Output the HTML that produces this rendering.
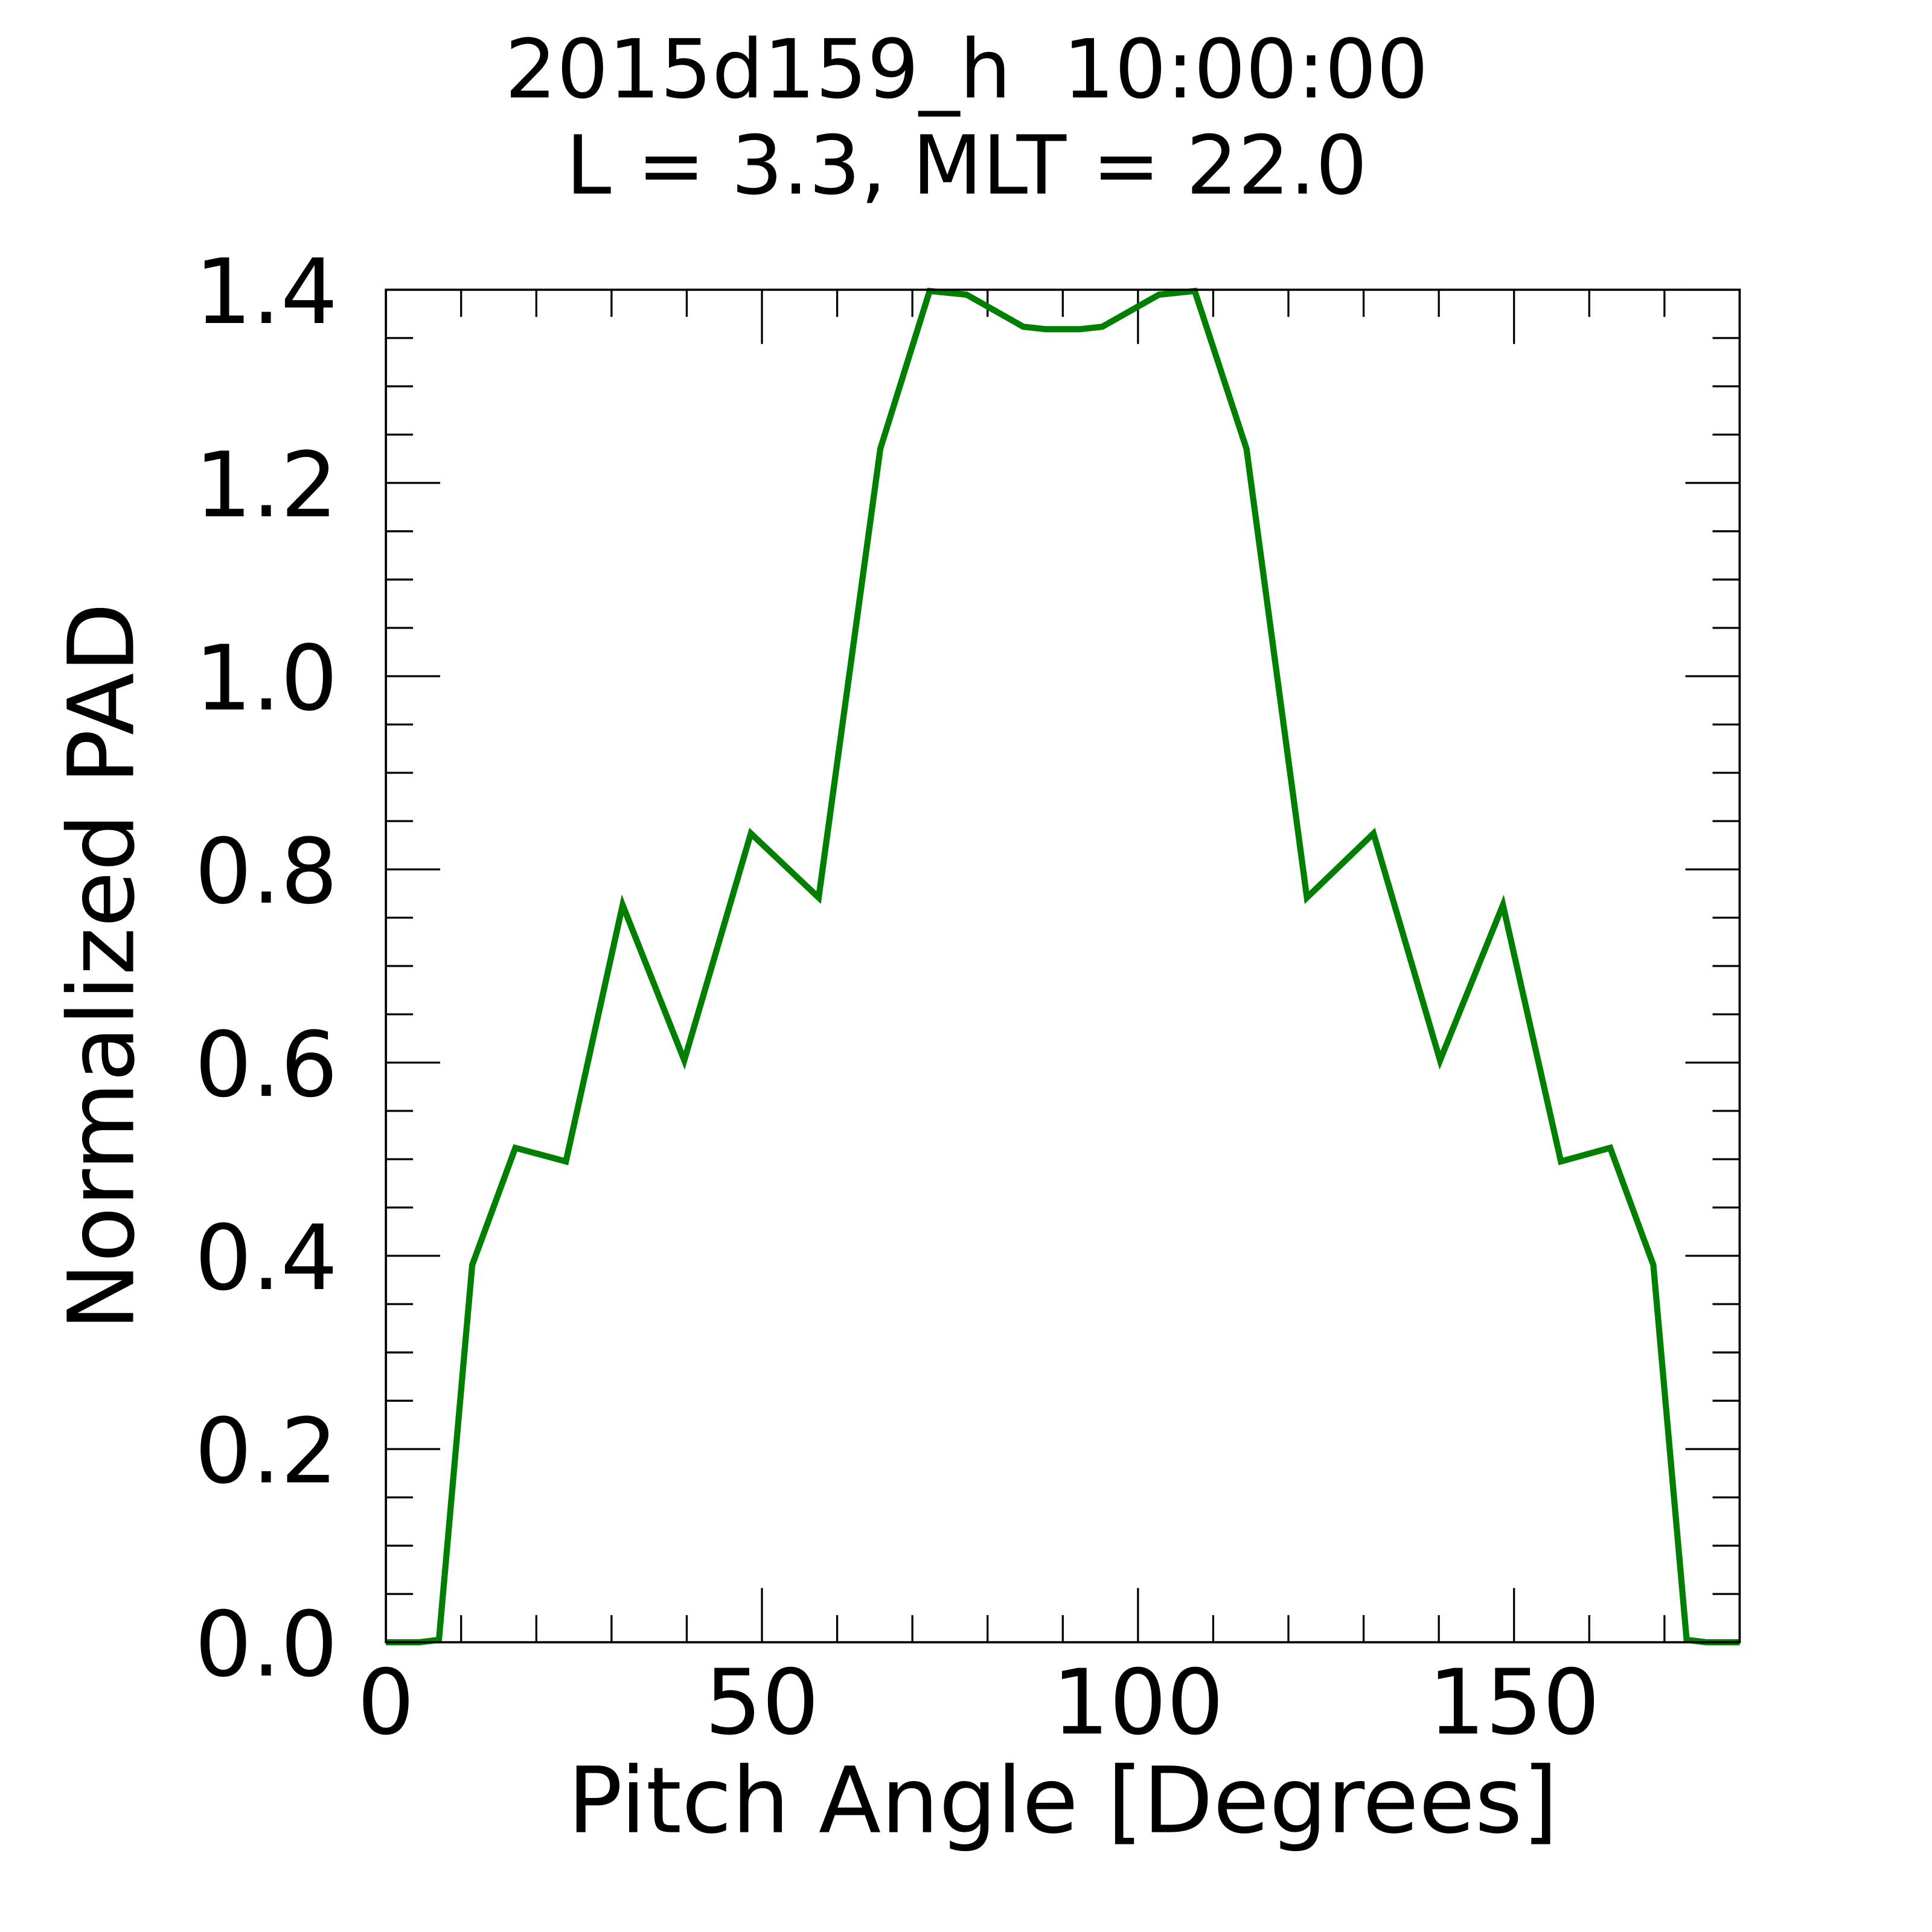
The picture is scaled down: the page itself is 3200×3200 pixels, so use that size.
<!DOCTYPE html>
<html><head><meta charset="utf-8"><style>html,body{margin:0;padding:0;background:#fff}svg{display:block}</style></head>
<body>
<svg id="s" width="3200" height="3200" viewBox="0 0 1567 1567" xmlns="http://www.w3.org/2000/svg" font-family="DejaVu Sans, Liberation Sans, sans-serif">
<rect width="1567" height="1567" fill="#fff"/>
<text x="784" y="79" font-size="66" text-anchor="middle" xml:space="preserve">2015d159_h&#160;&#160;10:00:00</text>
<text x="784" y="157" font-size="66" text-anchor="middle">L = 3.3, MLT = 22.0</text>
<g id="ticks" stroke="#000" stroke-width="1.6"></g>
<polyline fill="none" stroke="#007f00" stroke-width="5" stroke-linejoin="miter" points="313,1332 340,1332 356,1330 383,1026 418,931 459,942 505,734 555,860 609,676 664,728 714,364 754,236 784,239 830,265 848,267 876,267 894,265 940,239 969,236 1011,364 1060,728 1114,676 1168,860 1219,734 1266,942 1306,931 1341,1026 1368,1330 1384,1332 1411,1332"/>
<rect x="313" y="235" width="1098" height="1097" fill="none" stroke="#000" stroke-width="1.8"/>
<g id="labels" font-size="73"></g>
<text x="862" y="1486" font-size="74" text-anchor="middle">Pitch Angle [Degrees]</text>
<text transform="translate(108,784) rotate(-90)" font-size="74" text-anchor="middle">Normalized PAD</text>
</svg>
<script>
var L=313,R=1411,T=235,B=1332,ns="http://www.w3.org/2000/svg";
var g=document.getElementById('ticks'),lb=document.getElementById('labels');
function ln(x1,y1,x2,y2){var e=document.createElementNS(ns,'line');e.setAttribute('x1',x1);e.setAttribute('y1',y1);e.setAttribute('x2',x2);e.setAttribute('y2',y2);g.appendChild(e);}
function tx(x,y,s,a){var e=document.createElementNS(ns,'text');e.setAttribute('x',x);e.setAttribute('y',y);e.setAttribute('text-anchor',a);e.textContent=s;lb.appendChild(e);}
for(var d=0;d<=180;d+=10){var x=L+(R-L)*d/180,len=(d%50==0)?44:22;ln(x,B,x,B-len);ln(x,T,x,T+len);if(d%50==0)tx(x,1406,String(d),'middle');}
for(var i=0;i<=28;i++){var y=B-(B-T)*i/28,len=(i%4==0)?44:22;ln(L,y,L+len,y);ln(R,y,R-len,y);if(i%4==0)tx(274,y+27,(i*0.05).toFixed(1),'end');}
</script>
</body></html>
